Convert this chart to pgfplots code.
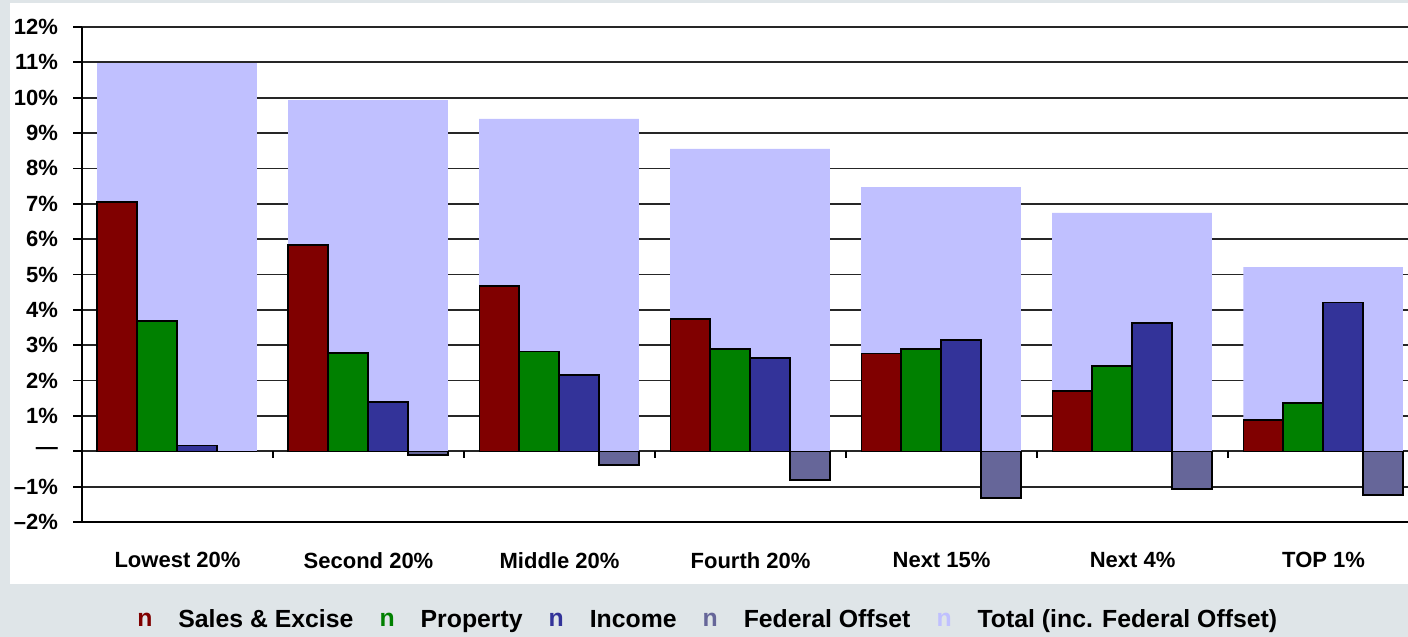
\documentclass[border=0pt]{standalone}
\usepackage{pgfplots}
\pgfplotsset{compat=1.18}
\usepackage{fontspec}
\setmainfont{Liberation Sans}
\definecolor{bgc}{RGB}{223,229,232}
\definecolor{totc}{RGB}{192,192,255}
\definecolor{salesc}{RGB}{128,0,0}
\definecolor{propc}{RGB}{0,128,0}
\definecolor{incc}{RGB}{51,51,153}
\definecolor{fedc}{RGB}{102,102,153}
\newcommand{\lfont}{\bfseries\fontsize{11}{13}\selectfont}
\newcommand{\gfont}{\bfseries\fontsize{12.4}{14}\selectfont}
\tikzset{legn/.style={draw=none, fill=none, inner sep=0pt, font=\gfont, text height=0.55em, text depth=0pt, anchor=base}}
\begin{document}
\begin{tikzpicture}
\fill[bgc] (0,0) rectangle (704pt,318.5pt);
\fill[white] (5pt,26.5pt) rectangle (704pt,317pt);
\useasboundingbox (0,0) rectangle (704pt,318.5pt);
\begin{axis}[
  at={(41pt,57.5pt)}, anchor=south west,
  width=663pt, height=247.5pt, scale only axis,
  xmin=-0.5, xmax=6.442, ymin=-2, ymax=12,
  axis x line=bottom, axis y line=left,
  axis line style={-, black, line width=0.9pt},
  ytick={-2,...,12},
  yticklabels={–2\%,–1\%,—,1\%,2\%,3\%,4\%,5\%,6\%,7\%,8\%,9\%,10\%,11\%,12\%},
  xtick={0,...,6},
  xticklabels={Lowest 20\%,Second 20\%,Middle 20\%,Fourth 20\%,Next 15\%,Next 4\%,TOP 1\%},
  tick label style={font=\lfont},
  ymajorgrids, grid style={black!85, line width=0.9pt},
  tick align=outside, major tick length=4.5pt,
  y tick style={black, line width=0.9pt},
  x tick style={draw=none},
  xticklabel style={yshift=-7pt},
  yticklabel style={xshift=-4pt},
  legend columns=-1,
  legend style={at={(0.473,-0.203)}, anchor=center, draw=none, fill=none, font=\gfont,
    nodes={text height=0.75em, text depth=0.22em},
    /tikz/every odd column/.append style={column sep=11pt},
    /tikz/every even column/.append style={column sep=11pt}},
]
\addplot[ybar, bar width=0.836, bar shift=-0.0025, fill=totc, draw=none, forget plot]
  coordinates {(0,10.98) (1,9.93) (2,9.40) (3,8.55) (4,7.47) (5,6.74) (6,5.21)};
\addplot[ybar, bar width=0.209, bar shift=-0.316, fill=salesc, draw=black, line width=0.7pt,
  legend image code/.code={\node[legn, text=salesc] at (0,-2pt) {n};}]
  coordinates {(0,7.05) (1,5.83) (2,4.67) (3,3.74) (4,2.77) (5,1.70) (6,0.88)};
\addlegendentry{Sales \& Excise}
\addplot[ybar, bar width=0.209, bar shift=-0.107, fill=propc, draw=black, line width=0.7pt,
  legend image code/.code={\node[legn, text=propc] at (0,-2pt) {n};}]
  coordinates {(0,3.68) (1,2.78) (2,2.83) (3,2.89) (4,2.89) (5,2.41) (6,1.36)};
\addlegendentry{Property}
\addplot[ybar, bar width=0.209, bar shift=0.102, fill=incc, draw=black, line width=0.7pt,
  legend image code/.code={\node[legn, text=incc] at (0,-2pt) {n};}]
  coordinates {(0,0.17) (1,1.39) (2,2.16) (3,2.64) (4,3.15) (5,3.63) (6,4.21)};
\addlegendentry{Income}
\addplot[ybar, bar width=0.209, bar shift=0.311, fill=fedc, draw=black, line width=0.7pt,
  legend image code/.code={\node[legn, text=fedc] at (0,-2pt) {n};}]
  coordinates {(0,0) (1,-0.10) (2,-0.39) (3,-0.81) (4,-1.32) (5,-1.07) (6,-1.24)};
\addlegendentry{Federal Offset}
\addlegendimage{legend image code/.code={\node[legn, text=totc] at (0,-2pt) {n};}}
\addlegendentry{Total (inc. Federal Offset)}
\draw[black, line width=0.9pt] (axis cs:0.5,0) -- ([yshift=-3.5pt]axis cs:0.5,0);
\draw[black, line width=0.9pt] (axis cs:1.5,0) -- ([yshift=-3.5pt]axis cs:1.5,0);
\draw[black, line width=0.9pt] (axis cs:2.5,0) -- ([yshift=-3.5pt]axis cs:2.5,0);
\draw[black, line width=0.9pt] (axis cs:3.5,0) -- ([yshift=-3.5pt]axis cs:3.5,0);
\draw[black, line width=0.9pt] (axis cs:4.5,0) -- ([yshift=-3.5pt]axis cs:4.5,0);
\draw[black, line width=0.9pt] (axis cs:5.5,0) -- ([yshift=-3.5pt]axis cs:5.5,0);
\end{axis}
\end{tikzpicture}
\end{document}
